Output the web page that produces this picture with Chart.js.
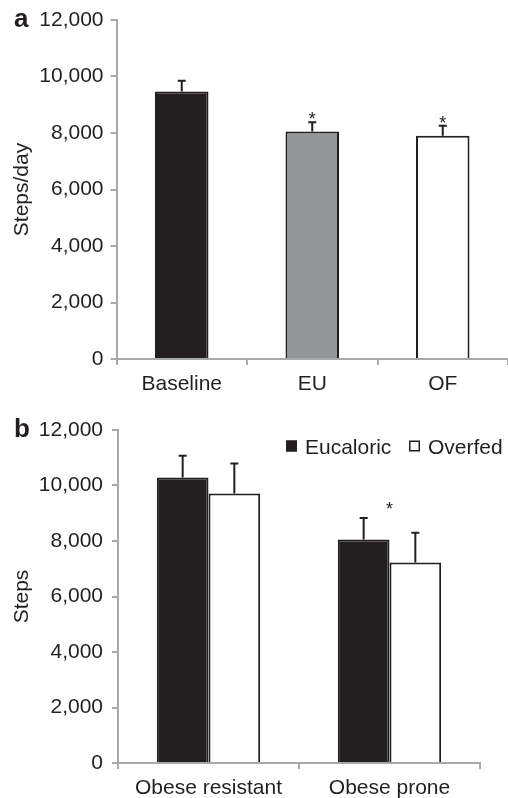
<!DOCTYPE html>
<html>
<head>
<meta charset="utf-8">
<script src="https://cdn.jsdelivr.net/npm/chart.js@4.4.0/dist/chart.umd.min.js"></script>
<style>
  html, body { margin: 0; padding: 0; background: #fff; }
  .panel { position: absolute; left: 0; width: 508px; }
  #panelA { top: 0; height: 400px; }
  #panelB { top: 400px; height: 398px; }
</style>
</head>
<body>
<div class="panel" id="panelA"><canvas id="chartA"></canvas></div>
<div class="panel" id="panelB"><canvas id="chartB"></canvas></div>
<script>
// panel a - steps/day by condition
const conditionsA = ['Baseline', 'EU', 'OF'];
const stepsA = [9470, 8050, 7900];
const errA = [380, 330, 360];
const starA = [false, true, true];

// panel b - steps by group and diet
const groupsB = ['Obese resistant', 'Obese prone'];
const eucaloricB = [10290, 8055];
const eucaloricErrB = [780, 770];
const overfedB = [9715, 7225];
const overfedErrB = [1080, 1070];
const starB = [false, true];

const yMin = 0;
const yMax = 12000;
const yStep = 2000;

const ink = '#231f20';
const axisGray = '#a7a9ac';

Chart.defaults.font.family = '"Liberation Sans", Arial, Helvetica, sans-serif';
Chart.defaults.color = ink;

// upper error bars + significance stars
const errorBars = {
    id: 'errorBars',
    afterDatasetsDraw(chart, args, opts) {
        const ctx = chart.ctx;
        const y = chart.scales.y;
        const tops = [];
        ctx.save();
        ctx.strokeStyle = ink;
        ctx.lineWidth = 2;
        chart.data.datasets.forEach((ds, i) => {
            const meta = chart.getDatasetMeta(i);
            meta.data.forEach((bar, j) => {
                const top = y.getPixelForValue(ds.data[j] + ds.errors[j]);
                const base = y.getPixelForValue(ds.data[j]);
                tops[j] = tops[j] === undefined ? top : Math.min(tops[j], top);
                ctx.beginPath();
                ctx.moveTo(bar.x, base);
                ctx.lineTo(bar.x, top);
                ctx.moveTo(bar.x - 4, top);
                ctx.lineTo(bar.x + 4, top);
                ctx.stroke();
            });
        });
        // stars
        ctx.fillStyle = ink;
        ctx.font = '18px "Liberation Sans", Arial, sans-serif';
        ctx.textAlign = 'center';
        ctx.textBaseline = 'alphabetic';
        opts.stars.forEach((s, j) => {
            if (!s) return;
            const x = chart.scales.x.getPixelForValue(j);
            ctx.fillText('*', x, tops[j] - opts.starGap + 11);
        });
        ctx.restore();
    }
};

// panel letter + optional square legend
const panelDecor = {
    id: 'panelDecor',
    afterDraw(chart, args, opts) {
        const ctx = chart.ctx;
        ctx.save();
        ctx.fillStyle = ink;
        ctx.font = 'bold 26px "Liberation Sans", Arial, sans-serif';
        ctx.textBaseline = 'alphabetic';
        ctx.textAlign = 'left';
        ctx.fillText(opts.letter, 14, opts.letterY);
        if (opts.legendX) {
            ctx.font = '21px "Liberation Sans", Arial, sans-serif';
            chart.data.datasets.forEach((ds, i) => {
                const x = opts.legendX[i];
                ctx.fillStyle = ds.backgroundColor;
                ctx.fillRect(x, opts.legendY - 5.5, 11, 11);
                ctx.strokeStyle = ds.borderColor;
                ctx.lineWidth = 1.5;
                ctx.strokeRect(x + 0.75, opts.legendY - 4.75, 9.5, 9.5);
                ctx.fillStyle = ink;
                ctx.fillText(ds.label, x + 19, opts.legendY + 7.5);
            });
        }
        ctx.restore();
    }
};

function makeOptions(cfg) {
    return {
        responsive: true,
        maintainAspectRatio: false,
        animation: false,
        layout: { padding: { top: cfg.padTop, right: cfg.padRight, left: 0, bottom: 0 } },
        plugins: {
            legend: { display: false },
            tooltip: { enabled: false },
            errorBars: { stars: cfg.stars, starGap: cfg.starGap },
            panelDecor: cfg.decor
        },
        scales: {
            x: {
                offset: true,
                grid: { offset: true, drawOnChartArea: false, color: axisGray, lineWidth: 2, tickLength: 6 },
                border: { color: axisGray, width: 2 },
                ticks: { font: { size: 21 }, color: ink, padding: 7, maxRotation: 0, autoSkip: false },
                afterFit(scale) { scale.height = cfg.xHeight; }
            },
            y: {
                min: yMin,
                max: yMax,
                ticks: { stepSize: yStep, font: { size: 21 }, color: ink, padding: cfg.tickPad },
                grid: { drawOnChartArea: false, color: axisGray, lineWidth: 2, tickLength: 6 },
                border: { color: axisGray, width: 2 },
                title: {
                    display: true,
                    text: cfg.yTitle,
                    color: ink,
                    font: { size: 21, lineHeight: 1 },
                    padding: { top: 12, bottom: 0 }
                },
                afterFit(scale) { scale.width = cfg.yWidth; }
            }
        }
    };
}

new Chart(document.getElementById('chartA'), {
    type: 'bar',
    data: {
        labels: conditionsA,
        datasets: [{
            label: 'Steps/day',
            data: stepsA,
            errors: errA,
            backgroundColor: [ink, '#939598', '#ffffff'],
            borderColor: ink,
            borderWidth: 2,
            barPercentage: 0.41,
            categoryPercentage: 1
        }]
    },
    options: makeOptions({
        padTop: 20, padRight: 0, xHeight: 41, yWidth: 116.5, tickPad: 7,
        yTitle: 'Steps/day', stars: starA, starGap: 8,
        decor: { letter: 'a', letterY: 27 }
    }),
    plugins: [errorBars, panelDecor]
});

new Chart(document.getElementById('chartB'), {
    type: 'bar',
    data: {
        labels: groupsB,
        datasets: [{
            label: 'Eucaloric',
            data: eucaloricB,
            errors: eucaloricErrB,
            backgroundColor: ink,
            borderColor: ink,
            borderWidth: 2,
            barPercentage: 1,
            categoryPercentage: 0.571
        }, {
            label: 'Overfed',
            data: overfedB,
            errors: overfedErrB,
            backgroundColor: '#ffffff',
            borderColor: ink,
            borderWidth: 2,
            barPercentage: 1,
            categoryPercentage: 0.571
        }]
    },
    options: makeOptions({
        padTop: 30, padRight: 28, xHeight: 35, yWidth: 118, tickPad: 9,
        yTitle: 'Steps', stars: starB, starGap: 14,
        decor: { letter: 'b', letterY: 37, legendX: [286, 409], legendY: 46 }
    }),
    plugins: [errorBars, panelDecor]
});
</script>
</body>
</html>
